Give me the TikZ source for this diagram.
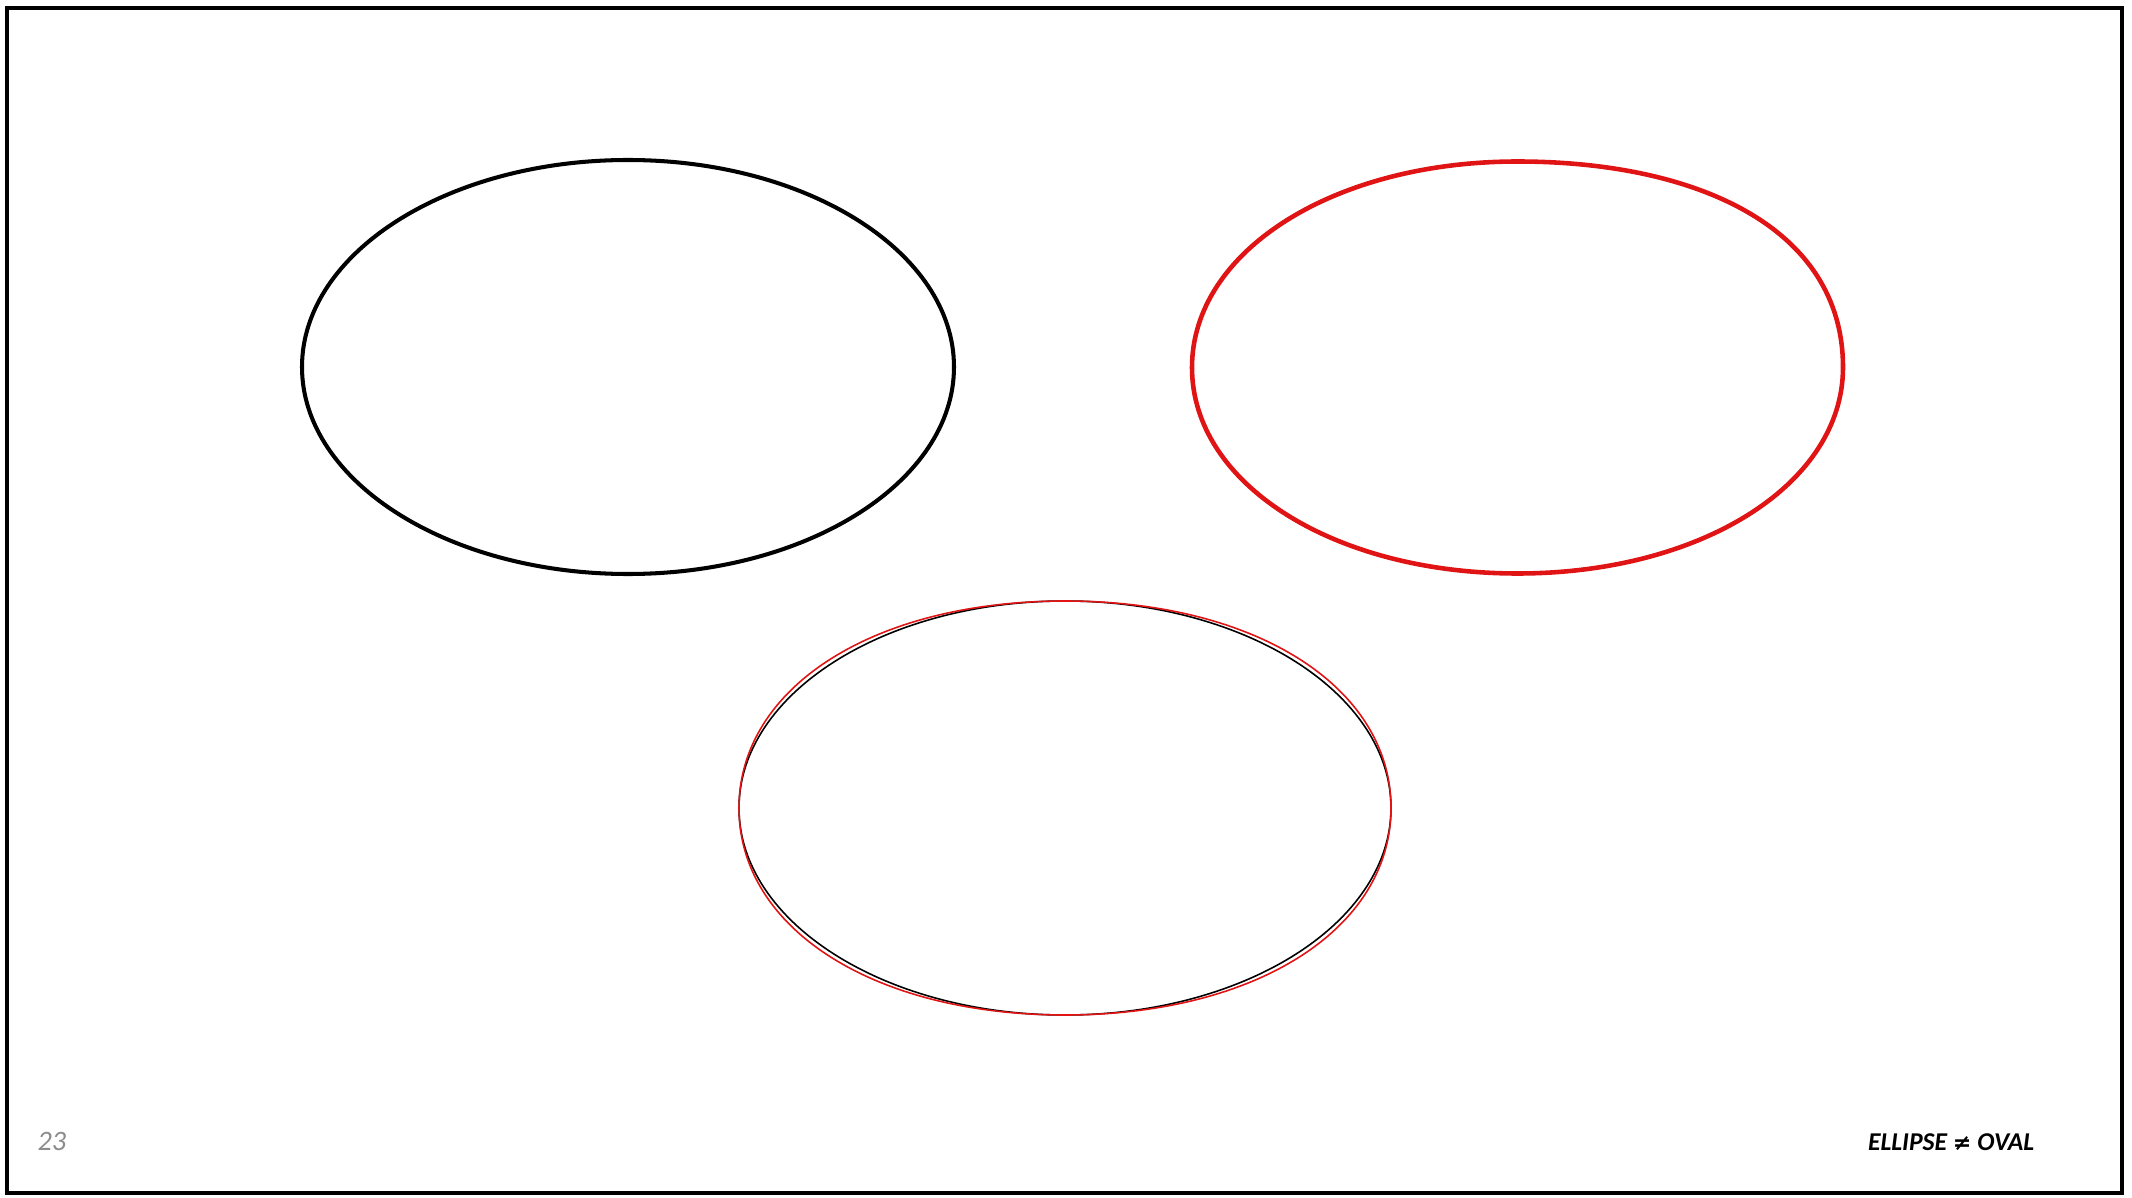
\documentclass[tikz,border=0pt]{standalone}
\usepackage{fontspec}
\setmainfont{Carlito}
\newfontfamily\symfont{DejaVu Sans}
\usepackage{xcolor}
\definecolor{ovred}{HTML}{E01414}
\definecolor{pagenum}{HTML}{8C8C8C}
\usepackage{tikz}
\usetikzlibrary{calc}
\tikzset{
  ovframe/.style={draw=black,line width=1.1pt},
  ovellipse/.style={draw=black,line width=1.15pt},
  ovoval/.style={draw=ovred,line width=1.3pt},
  ovthinblack/.style={draw=black,line width=0.45pt},
  ovthinred/.style={draw=ovred,line width=0.45pt},
  ovnum/.style={font=\fontsize{8}{9}\selectfont\itshape,text=pagenum,inner sep=0pt},
  ovtitle/.style={font=\fontsize{7.3}{9}\selectfont\bfseries\itshape,inner sep=0pt},
}
% oval: four bezier quarters (#5,#6 upper right handles, #7 the others)
\newcommand{\ovaldraw}[7]{%
  \begin{scope}[shift={#2},xscale=#3,yscale=#4]
    \draw[#1] (1,0) .. controls (1,#5) and (#6,1) .. (0,1)
      .. controls (-#7,1) and (-1,#7) .. (-1,0)
      .. controls (-1,-#7) and (-#7,-1) .. (0,-1)
      .. controls (#7,-1) and (1,-#7) .. (1,0) -- cycle;
  \end{scope}}

\begin{document}
\begin{tikzpicture}
\useasboundingbox (0,0) rectangle (21.32,11.97);
\draw[ovframe] (0.07,0.04) rectangle (21.22,11.89);

% true ellipse, top left
\coordinate (el) at (6.28,8.30);
\draw[ovellipse] (el) ellipse [x radius=3.26,y radius=2.07];

% oval, top right
\coordinate (ov) at (15.175,8.295);
\ovaldraw{ovoval}{(ov)}{3.255}{2.06}{0.68}{0.55}{0.565}

% both laid over each other
\coordinate (both) at (10.65,3.89);
\draw[ovthinblack] (both) ellipse [x radius=3.26,y radius=2.07];
\ovaldraw{ovthinred}{(both)}{3.26}{2.07}{0.585}{0.585}{0.585}

\node[ovnum,anchor=base west](num) at (0.37,0.47){23};
\node[ovtitle,anchor=base east](title) at (20.35,0.47){ELLIPSE {\symfont\fontsize{6.3}{8}\selectfont\bfseries ≠} OVAL};
\end{tikzpicture}
\end{document}
